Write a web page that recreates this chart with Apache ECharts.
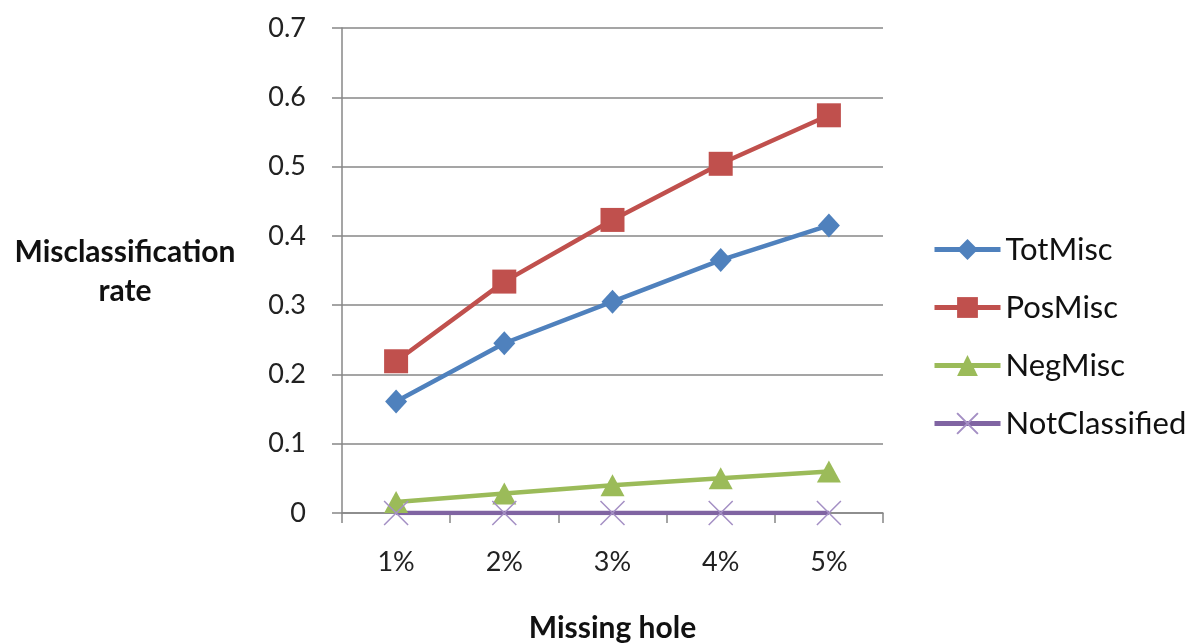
<!DOCTYPE html>
<html>
<head>
<meta charset="utf-8">
<script src="https://cdn.jsdelivr.net/npm/echarts@6/dist/echarts.min.js"></script>
<style>
  html, body { margin: 0; padding: 0; background: #fff; }
  #chart { width: 1191px; height: 644px; }
</style>
</head>
<body>
<div id="chart"></div>
<script>
// Missing-hole percentage categories
const categories = ['1%', '2%', '3%', '4%', '5%'];

// Misclassification rates per series
const totMisc = [0.161, 0.245, 0.305, 0.365, 0.415];
const posMisc = [0.219, 0.334, 0.423, 0.504, 0.574];
const negMisc = [0.016, 0.028, 0.040, 0.050, 0.060];
const notClassified = [0, 0, 0, 0, 0];

const FONT = 'Lato, "Open Sans", sans-serif';
const GRID_GRAY = '#878787';
const TICK_FS = 27;
const LEGEND_FS = 31;
const NAME_FS = 30;

const crossPath = 'path://M0,0L10,10M10,0L0,10';

function lineSeries(name, data, color, symbol, size, extraItem) {
  return {
    name: name,
    type: 'line',
    data: data,
    symbol: symbol,
    symbolSize: size,
    showAllSymbol: true,
    lineStyle: { color: color, width: 4.5 },
    itemStyle: Object.assign({ color: color }, extraItem || {}),
    emphasis: { disabled: true },
    animation: false
  };
}

const chart = echarts.init(document.getElementById('chart'));
chart.setOption({
  backgroundColor: '#ffffff',
  animation: false,
  grid: { left: 342, right: 308, top: 28, bottom: 131, containLabel: false, outerBoundsMode: 'none' },
  legend: {
    orient: 'vertical',
    left: 932,
    top: 234,
    padding: 0,
    itemWidth: 66,
    itemHeight: 26,
    itemGap: 27,
    lineStyle: { width: 5 },
    textStyle: { fontFamily: FONT, fontSize: LEGEND_FS, color: '#111' },
    data: ['TotMisc', 'PosMisc', 'NegMisc', 'NotClassified']
  },
  xAxis: {
    type: 'category',
    data: categories,
    boundaryGap: true,
    name: 'Missing hole',
    nameLocation: 'middle',
    nameGap: 100,
    nameTextStyle: { fontFamily: FONT, fontSize: NAME_FS, fontWeight: 'bold', color: '#111' },
    axisLine: { show: true, lineStyle: { color: GRID_GRAY, width: 1.5 } },
    axisTick: { show: true, length: 10, alignWithLabel: false, lineStyle: { color: GRID_GRAY, width: 1.5 } },
    axisLabel: { fontFamily: FONT, fontSize: TICK_FS, color: '#222', margin: 36 },
    splitLine: { show: false }
  },
  yAxis: {
    type: 'value',
    min: 0,
    max: 0.7,
    interval: 0.1,
    axisLine: { show: true, lineStyle: { color: GRID_GRAY, width: 1.5 } },
    axisTick: { show: true, length: 10, lineStyle: { color: GRID_GRAY, width: 1.5 } },
    axisLabel: {
      fontFamily: FONT, fontSize: TICK_FS, color: '#222', margin: 36,
      formatter: function (v) { return v === 0 ? '0' : v.toFixed(1); }
    },
    splitLine: { show: true, lineStyle: { color: GRID_GRAY, width: 1.5 } }
  },
  graphic: [
    {
      type: 'text',
      x: 125,
      y: 252,
      style: {
        text: 'Misclassification',
        fontFamily: FONT, fontSize: NAME_FS, fontWeight: 'bold', fill: '#111',
        align: 'center', verticalAlign: 'middle'
      },
      z: 10
    },
    {
      type: 'text',
      x: 125,
      y: 291,
      style: {
        text: 'rate',
        fontFamily: FONT, fontSize: NAME_FS, fontWeight: 'bold', fill: '#111',
        align: 'center', verticalAlign: 'middle'
      },
      z: 10
    }
  ],
  series: [
    lineSeries('TotMisc', totMisc, '#4F81BD', 'diamond', [22, 24]),
    lineSeries('PosMisc', posMisc, '#C0504D', 'rect', 24),
    lineSeries('NegMisc', negMisc, '#9BBB59', 'triangle', [24, 22]),
    lineSeries('NotClassified', notClassified, '#8064A2', crossPath, 24,
      { borderColor: '#a48fc4', borderWidth: 1.5 })
  ]
});
</script>
</body>
</html>
